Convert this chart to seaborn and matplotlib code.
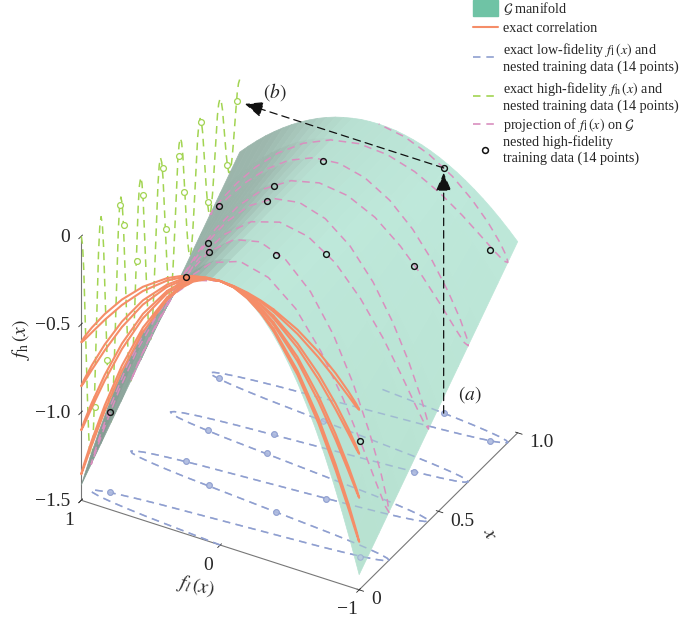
import numpy as np
import seaborn as sns
import matplotlib
matplotlib.use('Agg')
import matplotlib.pyplot as plt
from matplotlib.lines import Line2D
from matplotlib.patches import Patch, Rectangle
from matplotlib.legend_handler import HandlerPatch
from mpl_toolkits.mplot3d import proj3d

# Curves
x_vals = [0, .008, .016, .023, .031, .039, .047, .055, .063, .070, .078, .086, .094, .102, .109, .117,
          .125, .133, .141, .148, .156, .164, .172, .180, .188, .195, .203, .211, .219, .227, .234, .242,
          .25, .258, .266, .273, .281, .289, .297, .305, .313, .320, .328, .336, .344, .352, .359, .367,
          .375, .383, .391, .398, .406, .414, .422, .430, .438, .445, .453, .461, .469, .477, .484, .492,
          .5, .508, .516, .523, .531, .539, .547, .555, .563, .570, .578, .586, .594, .602, .609, .617,
          .625, .633, .641, .648, .656, .664, .672, .680, .688, .695, .703, .711, .719, .727, .734, .742,
          .75, .758, .766, .773, .781, .789, .797, .805, .813, .820, .828, .836, .844, .852, .859, .867,
          .875, .883, .891, .898, .906, .914, .922, .930, .938, .945, .953, .961, .969, .977, .984, .992, 1]
fl_vals = [0, .195, .383, .556, .707, .831, .924, .981, 1, .981, .924, .831, .707, .556, .383, .195,
           0, -.195, -.383, -.556, -.707, -.831, -.924, -.981, -1, -.981, -.924, -.831, -.707, -.556, -.383, -.195,
           0, .195, .383, .556, .707, .831, .924, .981, 1, .981, .924, .831, .707, .556, .383, .195,
           0, -.195, -.383, -.556, -.707, -.831, -.924, -.981, -1, -.981, -.924, -.831, -.707, -.556, -.383, -.195,
           0, .195, .383, .556, .707, .831, .924, .981, 1, .981, .924, .831, .707, .556, .383, .195,
           0, -.195, -.383, -.556, -.707, -.831, -.924, -.981, -1, -.981, -.924, -.831, -.707, -.556, -.383, -.195,
           0, .195, .383, .556, .707, .831, .924, .981, 1, .981, .924, .831, .707, .556, .383, .195,
           0, -.195, -.383, -.556, -.707, -.831, -.924, -.981, -1, -.981, -.924, -.831, -.707, -.556, -.383, -.195, 0]
fh_vals = [0, -.053, -.204, -.430, -.691, -.950, -1.167, -1.308, -1.352, -1.293, -1.141, -.918, -.660, -.406, -.191, -.049,
           0, -.049, -.186, -.391, -.629, -.864, -1.061, -1.188, -1.227, -1.173, -1.034, -.831, -.598, -.367, -.172, -.045,
           0, -.044, -.168, -.353, -.566, -.777, -.954, -1.068, -1.102, -1.052, -.927, -.745, -.535, -.328, -.154, -.040,
           0, -.039, -.149, -.314, -.504, -.691, -.847, -.947, -.977, -.932, -.821, -.659, -.473, -.290, -.136, -.035,
           0, -.034, -.131, -.275, -.441, -.605, -.740, -.827, -.852, -.812, -.714, -.572, -.410, -.251, -.118, -.030,
           0, -.030, -.113, -.237, -.379, -.518, -.634, -.707, -.727, -.692, -.607, -.486, -.348, -.213, -.099, -.026,
           0, -.025, -.095, -.198, -.316, -.432, -.527, -.587, -.602, -.571, -.500, -.399, -.285, -.174, -.081, -.021,
           0, -.020, -.076, -.159, -.254, -.346, -.420, -.467, -.477, -.451, -.394, -.313, -.223, -.135, -.063, -.016, 0]

# Correlation curves close to their common top, one row per crossing of fl = 0
apex_fl = [0, .098, .195, .29, .383]
apex_pos = [[0, -.014, -.053, -.118, -.204],
            [0, -.012, -.049, -.109, -.191],
            [0, -.011, -.044, -.097, -.168],
            [0, -.010, -.040, -.088, -.154],
            [0, -.009, -.034, -.076, -.131],
            [0, -.008, -.030, -.067, -.118],
            [0, -.006, -.025, -.055, -.095],
            [0, -.005, -.021, -.046, -.081]]
apex_neg = [[0, -.012, -.049, -.107, -.186],
            [0, -.011, -.045, -.099, -.172],
            [0, -.010, -.039, -.086, -.149],
            [0, -.009, -.035, -.078, -.136],
            [0, -.008, -.030, -.065, -.113],
            [0, -.006, -.026, -.057, -.099],
            [0, -.005, -.020, -.044, -.076],
            [0, -.004, -.016, -.036, -.063]]

# Nested training data (14 points)
train_x = [.087, .16, .245, .269, .351, .387, .513, .534, .615, .651, .756, .80, .919, .98]
train_fl = [.89, -.825, -.12, .39, .649, -.32, .249, .70, .315, -.655, .123, .918, -.89, -.49]
train_fh = [-1.047, -.844, -.04, -.176, -.453, -.113, -.068, -.436, -.09, -.33, -.023, -.52, -.417, -.107]

# Manifold heights, half of the surface (mirrored about fl = 0)
fl_half = [0, .0625, .125, .1875, .25, .3125, .375, .4375, .5, .5625, .625, .6875, .75, .8125, .875, .9375, 1]
surf_x = [0, .125, .25, .375, .5, .625, .75, .875, 1]
surf_z0 = [0, -.006, -.022, -.050, -.088, -.138, -.199, -.271, -.354, -.447, -.552, -.668, -.795, -.934, -1.083, -1.243, -1.414]
surf_z1 = [0, -.005, -.020, -.045, -.081, -.126, -.181, -.247, -.322, -.408, -.503, -.609, -.725, -.851, -.987, -1.133, -1.289]
surf_z2 = [0, -.005, -.018, -.041, -.073, -.114, -.164, -.223, -.291, -.368, -.455, -.550, -.655, -.768, -.891, -1.023, -1.164]
surf_z3 = [0, -.004, -.016, -.037, -.065, -.102, -.146, -.199, -.260, -.329, -.406, -.491, -.584, -.686, -.795, -.913, -1.039]
surf_z4 = [0, -.004, -.014, -.032, -.057, -.089, -.129, -.175, -.229, -.289, -.357, -.432, -.514, -.603, -.700, -.803, -.914]
surf_z5 = [0, -.003, -.012, -.028, -.049, -.077, -.111, -.151, -.197, -.250, -.308, -.373, -.444, -.521, -.604, -.693, -.789]
surf_z6 = [0, -.003, -.010, -.023, -.042, -.065, -.093, -.127, -.166, -.210, -.259, -.314, -.374, -.438, -.508, -.584, -.664]
surf_z7 = [0, -.002, -.008, -.019, -.034, -.053, -.076, -.103, -.135, -.171, -.211, -.255, -.303, -.356, -.413, -.474, -.539]
surf_z8 = [0, -.002, -.006, -.015, -.026, -.040, -.058, -.079, -.104, -.131, -.162, -.196, -.233, -.273, -.317, -.364, -.414]

x_ticks = [0, .5, 1]
x_ticklabels = ['0', '0.5', '1.0']
fl_ticks = [-1, 0, 1]
fl_ticklabels = ['\u22121', '0', '1']
fh_ticks = [-1.5, -1, -.5, 0]
fh_ticklabels = ['\u22121.5', '\u22121.0', '\u22120.5', '0']

BLUE = '#8f9fd0'
GREEN = '#a2d452'
PINK = '#d98fbf'
ORANGE = '#f58d68'
FLOOR = -1.5
DASH = dict(lw=1.1, dashes=(5, 3.6))

sns.set_theme(style='white')
plt.rcParams['font.family'] = ['Liberation Serif', 'DejaVu Sans']
plt.rcParams['mathtext.fontset'] = 'stix'

x = np.array(x_vals)
fl = np.array(fl_vals)
fh = np.array(fh_vals)
tx = np.array(train_x)
tfl = np.array(train_fl)
tfh = np.array(train_fh)

fig = plt.figure(figsize=(6.86, 6.19), dpi=100)
side = 538
ax = fig.add_axes([23.2 / 686, (619 - 610.8) / 619, side / 686, side / 619], projection='3d', computed_zorder=False)
ax.set_proj_type('ortho')
ax.view_init(elev=34.4, azim=-150.3)
ax.set_box_aspect((1, 1, 1))
ax.set_xlim(0, 1, view_margin=0)
ax.set_ylim(-1, 1, view_margin=0)
ax.set_zlim(-1.5, 0, view_margin=0)
ax.patch.set_alpha(0)

# Surface colour follows the sideways slope of the manifold
Z = np.array([surf_z0, surf_z1, surf_z2, surf_z3, surf_z4, surf_z5, surf_z6, surf_z7, surf_z8])
Z = np.hstack([Z[:, :0:-1], Z])
fl_grid = np.r_[-np.array(fl_half)[:0:-1], fl_half]
X, Y = np.meshgrid(surf_x, fl_grid, indexing='ij')
slope = -np.diff(Z, axis=1)[:-1] / np.diff(fl_grid)
cmap = sns.blend_palette(['#b7e1d0', '#bee8da', '#b8e0d2', '#9db7ad', '#8fa89e'], as_cmap=True)
t = np.interp(slope, [-3, -.6, .2, .8, 3], [0, .25, .5, .75, 1])
colors = cmap(t)
# darker patch next to the top of the front edge
colors[0, slope[0] > .2, :3] *= .92
colors[1, slope[1] > .2, :3] *= .96

# back layers first, the surface then hides them
ax.plot(x, np.ones_like(x), fh, color=GREEN, zorder=1, **DASH)
ax.plot(tx, np.ones_like(tx), tfh, 'o', ms=4.2, mfc='white', mec=GREEN, mew=.9, zorder=1)
ax.plot(x, fl, np.full_like(x, FLOOR), color=BLUE, zorder=1, **DASH)
ax.plot(tx, tfl, np.full_like(tx, FLOOR), 'o', ms=4, mfc='#b4c0e2', mec=BLUE, mew=.8, zorder=1)

surf = ax.plot_surface(X, Y, Z, facecolors=colors, rstride=1, cstride=1, shade=False, linewidth=.5, zorder=2)
surf.set_edgecolor(colors.reshape(-1, 4))

# the surface is see-through: floor curves show faintly across it
ax.plot(x, fl, np.full_like(x, FLOOR), color=BLUE, alpha=.6, zorder=3, **DASH)
ax.plot(tx, tfl, np.full_like(tx, FLOOR), 'o', ms=4, mfc='#b4c0e2', mec=BLUE, mew=.8, alpha=.6, zorder=3)

ax.plot(x, fl, fh, color=PINK, zorder=4, **DASH)

# correlation: long arcs from the samples, the tops from the finer rows
arc_fh = np.where(np.abs(fl) < .38, np.nan, fh)
ax.plot(np.zeros_like(x), fl, arc_fh, color=ORANGE, lw=1.5, zorder=5)
for row in apex_pos:
    ax.plot(np.zeros(5), apex_fl, row, color=ORANGE, lw=1.5, zorder=5)
for row in apex_neg:
    ax.plot(np.zeros(5), -np.array(apex_fl), row, color=ORANGE, lw=1.5, zorder=5)

ax.plot(tx, tfl, tfh, 'o', ms=4.2, mfc='none', mec='#111111', mew=1, zorder=6)

# arrows from the last training point: floor -> manifold -> back wall
M = ax.get_proj()
def to_2d(px, py, pz):
    u, v, _ = proj3d.proj_transform(px, py, pz, M)
    return np.array([u, v])

a_pt = to_2d(tx[-1], tfl[-1], FLOOR)
s_pt = to_2d(tx[-1], tfl[-1], tfh[-1])
b_pt = to_2d(tx[-1], 1, tfh[-1])
up_tip = a_pt + .98 * (s_pt - a_pt)
left_tip = s_pt + .96 * (b_pt - s_pt)
for start, tip in [(a_pt, up_tip), (s_pt, left_tip)]:
    ax.annotate('', xy=tip, xytext=start, zorder=7,
                arrowprops=dict(arrowstyle='-|>,head_length=.75,head_width=.32', color='#111111', lw=.9,
                                ls=(0, (6, 4)), shrinkA=0, shrinkB=0, mutation_scale=15))

ax.text2D(470 / 686, 1 - 395 / 619, '$(a)$', transform=fig.transFigure, fontsize=14, ha='center', va='center')
ax.text2D(275 / 686, 1 - 92 / 619, '$(b)$', transform=fig.transFigure, fontsize=14, ha='center', va='center')

# axes: the lines and ticks are mplot3d's, the labels sit at pixel offsets from them
for axis in (ax.xaxis, ax.yaxis, ax.zaxis):
    axis.set_pane_color((1, 1, 1, 0))
    axis.pane.set_edgecolor((1, 1, 1, 0))
    axis.line.set_color('#777777')
    axis.line.set_linewidth(.8)
    axis._axinfo['tick']['color'] = '#777777'
    axis._axinfo['tick']['linewidth'] = {True: .6, False: .6}
ax.grid(False)
ax.set_xticks(x_ticks, [''] * len(x_ticks))
ax.set_yticks(fl_ticks, [''] * len(fl_ticks))
ax.set_zticks(fh_ticks, [''] * len(fh_ticks))

def axis_text(pos, text, dx, dy, **kw):
    ax.annotate(text, xy=to_2d(*pos), xytext=(dx, dy), textcoords='offset pixels', fontsize=14,
                annotation_clip=False, **kw)

for v, lab in zip(x_ticks, x_ticklabels):
    axis_text((v, -1, FLOOR), lab, 12, -10, ha='left', va='center')
for v, lab in zip(fl_ticks, fl_ticklabels):
    axis_text((0, v, FLOOR), lab, -12, -20, ha='center', va='center')
for v, lab in zip(fh_ticks, fh_ticklabels):
    axis_text((0, 1, v), lab, -11, -1, ha='right', va='center')
axis_text((.5, -1, FLOOR), '$x$', 51, -23, ha='center', va='center', rotation=-70)
axis_text((0, 0, FLOOR), r'$f_{l}\,(x)$', -24, -41, ha='center', va='center', rotation=-12)
axis_text((0, 1, -.75), r'$f_{\mathrm{h}}\,(x)$', -60, 29, ha='center', va='center', rotation=90)

# legend, in two parts because the rows are not evenly spaced
def tall_patch(legend, orig_handle, xdescent, ydescent, width, height, fontsize):
    return Rectangle((-xdescent, -ydescent - 2), width, height + 4)

handles = [Patch(color='#6fc3a5'),
           Line2D([], [], color=ORANGE, lw=1.5),
           Line2D([], [], color=BLUE, lw=1.2, dashes=(4.5, 3.5)),
           Line2D([], [], color=GREEN, lw=1.2, dashes=(4.5, 3.5)),
           Line2D([], [], color=PINK, lw=1.2, dashes=(4.5, 3.5)),
           Line2D([], [], ls='none', marker='o', ms=4.2, mfc='none', mec='#111111', mew=1.1)]
labels = [r'$\mathcal{G}$ manifold',
          'exact correlation',
          'exact low-fidelity $f_{\\mathrm{l}}\\,(x)$ and\nnested training data (14 points)',
          'exact high-fidelity $f_{\\mathrm{h}}\\,(x)$ and\nnested training data (14 points)',
          r'projection of $f_{\mathrm{l}}\,(x)$ on $\mathcal{G}$',
          'nested high-fidelity\ntraining data (14 points)']
legend_kw = dict(loc='upper left', frameon=False, fontsize=10.2, handlelength=1.75, handletextpad=.4,
                 borderaxespad=0, borderpad=0)
fig.legend(handles[:4], labels[:4], bbox_to_anchor=(473 / 686, 1), labelspacing=.38,
           handler_map={Patch: HandlerPatch(patch_func=tall_patch)}, **legend_kw)
fig.legend(handles[4:], labels[4:], bbox_to_anchor=(473 / 686, 1 - 116 / 619), labelspacing=.12, **legend_kw)

fig.savefig('out.png', dpi=100)
